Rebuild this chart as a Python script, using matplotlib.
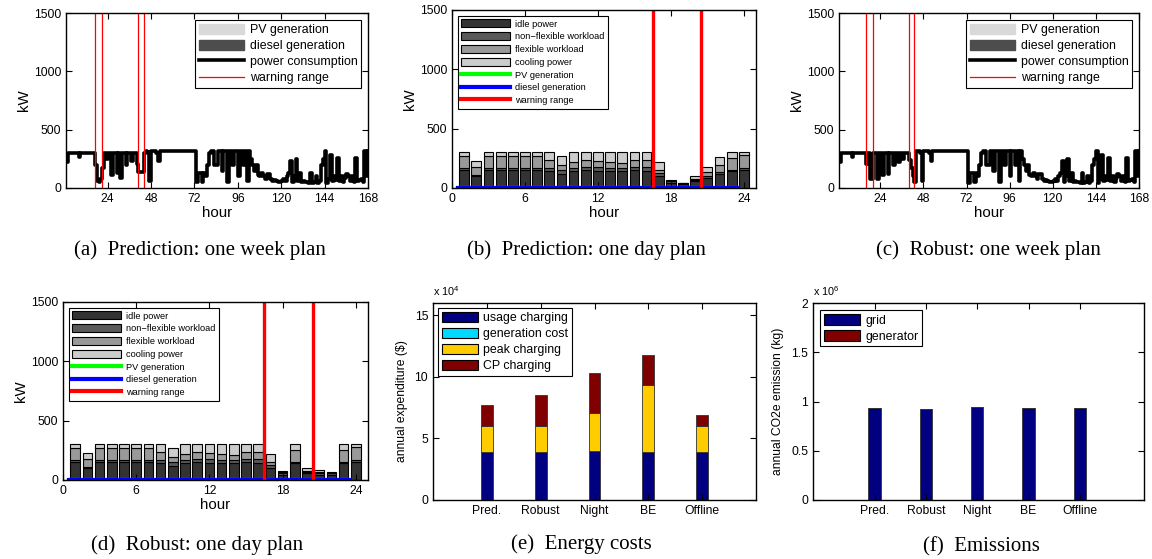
import matplotlib
matplotlib.use('Agg')
import matplotlib.pyplot as plt
from matplotlib.patches import Patch
from matplotlib.lines import Line2D
import numpy as np

plt.rcParams['font.family'] = ['Liberation Sans', 'DejaVu Sans']
plt.rcParams['mathtext.default'] = 'regular'

# ---- week plans (kW, hourly) ----
hours_week = np.arange(1, 169)
week_pred = [220, 300, 300, 300, 300, 300, 300, 270, 300, 300, 300, 300, 300, 300, 300, 300, 200, 60, 50, 80, 170, 300, 250, 300,
             300, 110, 300, 300, 130, 300, 90, 300, 300, 200, 300, 300, 230, 300, 300, 210, 140, 140, 140, 300, 320, 310, 60, 320,
             320, 320, 300, 230, 320, 320, 320, 320, 320, 320, 320, 320, 320, 320, 320, 320, 320, 320, 320, 320, 320, 320, 320, 320,
             50, 130, 130, 50, 130, 100, 200, 300, 320, 320, 200, 200, 320, 320, 150, 320, 320, 50, 320, 320, 200, 320, 320, 100,
             320, 320, 200, 320, 60, 320, 250, 200, 150, 200, 110, 100, 130, 100, 80, 120, 120, 80, 60, 70, 60, 50, 50, 60,
             80, 60, 100, 130, 230, 50, 100, 250, 60, 130, 50, 60, 50, 50, 40, 130, 40, 50, 100, 40, 60, 200, 250, 320,
             40, 80, 280, 60, 100, 70, 260, 60, 100, 50, 90, 120, 100, 60, 100, 50, 260, 60, 70, 80, 50, 320, 100, 320]
week_robust = [220, 300, 300, 300, 300, 300, 300, 270, 300, 300, 300, 300, 300, 300, 300, 210, 300, 80, 80, 300, 300, 80, 300, 300,
               110, 300, 300, 120, 300, 300, 200, 300, 300, 220, 300, 250, 300, 300, 300, 240, 170, 100, 50, 320, 320, 300, 60, 320,
               320, 320, 300, 230, 320, 320, 320, 320, 320, 320, 320, 320, 320, 320, 320, 320, 320, 320, 320, 320, 320, 320, 320, 320,
               40, 130, 130, 50, 130, 100, 200, 300, 320, 320, 200, 200, 320, 320, 150, 320, 320, 50, 320, 320, 200, 320, 320, 100,
               320, 320, 200, 320, 60, 320, 250, 200, 150, 200, 110, 100, 130, 100, 80, 120, 120, 80, 60, 70, 60, 50, 50, 60,
               80, 60, 100, 130, 230, 50, 100, 250, 60, 130, 50, 60, 50, 50, 40, 130, 40, 50, 100, 40, 60, 200, 250, 320,
               40, 80, 280, 60, 100, 70, 260, 60, 100, 50, 90, 120, 100, 60, 100, 50, 260, 60, 70, 80, 50, 320, 100, 320]
warn_week_pred = [17, 21, 41, 44]
warn_week_robust = [16, 20, 40, 43]

# ---- day plans (kW per hour) ----
hours_day = np.arange(1, 25)
pred_idle = [150, 100, 150, 150, 150, 150, 150, 145, 120, 140, 150, 140, 140, 140, 150, 145, 100, 40, 35, 55, 85, 120, 140, 155]
pred_nonflex = [15, 10, 15, 15, 15, 15, 15, 25, 30, 30, 30, 35, 30, 30, 30, 30, 30, 15, 5, 15, 20, 15, 15, 15]
pred_flex = [105, 70, 105, 105, 105, 105, 105, 70, 40, 50, 60, 55, 50, 40, 60, 60, 25, 5, 0, 10, 30, 60, 100, 110]
pred_cool = [30, 45, 30, 30, 30, 30, 30, 60, 80, 80, 60, 70, 80, 90, 60, 65, 60, 10, 5, 20, 40, 70, 45, 20]
rob_idle = [150, 100, 150, 150, 150, 150, 150, 145, 120, 140, 150, 140, 140, 140, 150, 145, 100, 40, 140, 55, 45, 40, 140, 155]
rob_nonflex = [15, 10, 15, 15, 15, 15, 15, 25, 30, 30, 30, 35, 30, 30, 30, 30, 30, 15, 15, 15, 15, 15, 15, 15]
rob_flex = [105, 70, 105, 105, 105, 105, 105, 70, 40, 50, 60, 55, 50, 40, 60, 60, 25, 10, 100, 10, 10, 5, 95, 110]
rob_cool = [30, 45, 30, 30, 30, 30, 30, 60, 80, 80, 60, 70, 80, 90, 60, 65, 60, 10, 45, 20, 15, 10, 50, 20]
pv_day = [0] * 24
diesel_day = [0] * 24
warn_day = [16.5, 20.5]

# ---- annual results ----
methods = ['Pred.', 'Robust', 'Night', 'BE', 'Offline']
cost_usage = [38900, 38900, 39400, 38600, 38900]
cost_gen = [0, 0, 0, 0, 0]
cost_peak = [20900, 20900, 31300, 54600, 21400]
cost_cp = [17600, 25800, 32600, 24200, 8500]
emis_grid = [935000, 928000, 945000, 932000, 939000]
emis_gen = [0, 0, 0, 0, 0]

W, H = 1152, 559
fig = plt.figure(figsize=(W / 100, H / 100), dpi=100)


def add_ax(l, t, r, b):
    return fig.add_axes([l / W, 1 - b / H, (r - l) / W, (b - t) / H])


def style(ax, fs=8.7):
    ax.tick_params(direction='in', top=True, right=True, labelsize=fs, length=4, width=0.8)
    for s in ax.spines.values():
        s.set_linewidth(1.0)


def legend(ax, handles, labels, **kw):
    lg = ax.legend(handles, labels, fancybox=False, framealpha=1, **kw)
    lg.get_frame().set_edgecolor('k')
    lg.get_frame().set_linewidth(0.8)
    return lg


def week_panel(ax, y, warn):
    ax.step(hours_week, y, where='post', color='k', lw=2.6)
    for w in warn:
        ax.axvline(w, color='r', lw=0.9)
    ax.set_xlim(1, 168)
    ax.set_ylim(0, 1500)
    ax.set_xticks(range(24, 169, 24))
    ax.set_yticks([0, 500, 1000, 1500])
    ax.set_xlabel('hour', fontsize=10.8, labelpad=1)
    ax.set_ylabel('kW', fontsize=10.8, labelpad=2)
    style(ax)
    h = [Patch(facecolor='#d9d9d9', edgecolor='#d9d9d9'),
         Patch(facecolor='#4d4d4d', edgecolor='#4d4d4d'),
         Line2D([], [], color='k', lw=2.6),
         Line2D([], [], color='r', lw=0.9)]
    legend(ax, h, ['PV generation', 'diesel generation', 'power consumption', 'warning range'],
           loc='upper right', fontsize=8.9, handlelength=3.6, handleheight=0.9,
           labelspacing=0.3, borderpad=0.3, handletextpad=0.5, borderaxespad=0.55)


def day_panel(ax, parts):
    cols = ['#333333', '#5a5a5a', '#999999', '#cccccc']
    bottom = np.zeros(24)
    for vals, c in zip(parts, cols):
        ax.bar(hours_day, vals, width=0.8, bottom=bottom, color=c, edgecolor='k', lw=0.8)
        bottom += np.array(vals)
    ax.plot(hours_day - 0.5, pv_day, color='#00ff00', lw=3)
    ax.plot(hours_day - 0.5, diesel_day, color='#0000ff', lw=3)
    for w in warn_day:
        ax.axvline(w, color='#ff0000', lw=2.4)
    ax.set_xlim(0, 25)
    ax.set_ylim(0, 1500)
    ax.set_xticks([0, 6, 12, 18, 24])
    ax.set_yticks([0, 500, 1000, 1500])
    ax.set_xlabel('hour', fontsize=10.8, labelpad=1)
    ax.set_ylabel('kW', fontsize=10.8, labelpad=2)
    style(ax)
    h = [Patch(facecolor=c, edgecolor='k', lw=0.8) for c in cols] + \
        [Line2D([], [], color='#00ff00', lw=3), Line2D([], [], color='#0000ff', lw=3),
         Line2D([], [], color='#ff0000', lw=3)]
    legend(ax, h, ['idle power', 'non\u2212flexible workload', 'flexible workload', 'cooling power',
                   'PV generation', 'diesel generation', 'warning range'],
           loc='upper left', fontsize=6.7, handlelength=5.2, handleheight=0.95,
           labelspacing=0.38, borderpad=0.4, handletextpad=0.6, borderaxespad=0.6)


ax_a = add_ax(66, 13, 368, 188)
week_panel(ax_a, week_pred, warn_week_pred)
ax_b = add_ax(452, 10, 756, 188)
day_panel(ax_b, [pred_idle, pred_nonflex, pred_flex, pred_cool])
ax_c = add_ax(839, 13, 1139, 188)
week_panel(ax_c, week_robust, warn_week_robust)
ax_d = add_ax(63, 302, 368, 480)
day_panel(ax_d, [rob_idle, rob_nonflex, rob_flex, rob_cool])

# (e) energy costs
ax_e = add_ax(433, 303, 756, 500)
xpos = np.arange(1, 6)
cols_e = ['#000080', '#00d9ff', '#ffcc00', '#800000']
bottom = np.zeros(5)
for vals, c in zip([cost_usage, cost_gen, cost_peak, cost_cp], cols_e):
    v = np.array(vals) / 1e4
    ax_e.bar(xpos, v, width=0.22, bottom=bottom, color=c, edgecolor='#333333', lw=0.6)
    bottom += v
ax_e.set_xlim(0, 6)
ax_e.set_ylim(0, 16)
ax_e.set_xticks(xpos)
ax_e.set_xticklabels(methods)
ax_e.set_yticks([0, 5, 10, 15])
ax_e.set_ylabel('annual expenditure ($)', fontsize=8.7, labelpad=5)
ax_e.text(0, 1.025, r'x 10$^4$', transform=ax_e.transAxes, fontsize=7.8, va='bottom')
style(ax_e)
legend(ax_e, [Patch(facecolor=c, edgecolor='k', lw=0.8) for c in cols_e],
       ['usage charging', 'generation cost', 'peak charging', 'CP charging'],
       loc='upper left', fontsize=8.9, handlelength=2.9, handleheight=0.95,
       labelspacing=0.28, borderpad=0.3, handletextpad=0.45, borderaxespad=0.4)

# (f) emissions
ax_f = add_ax(813, 303, 1144, 500)
cols_f = ['#000080', '#800000']
bottom = np.zeros(5)
for vals, c in zip([emis_grid, emis_gen], cols_f):
    v = np.array(vals) / 1e6
    ax_f.bar(xpos, v, width=0.24, bottom=bottom, color=c, edgecolor='#333333', lw=0.6)
    bottom += v
ax_f.set_xlim(-0.2, 6.25)
ax_f.set_ylim(0, 2)
ax_f.set_xticks(xpos)
ax_f.set_xticklabels(methods)
ax_f.set_yticks([0, 0.5, 1, 1.5, 2])
ax_f.set_yticklabels(['0', '0.5', '1', '1.5', '2'])
ax_f.set_ylabel('annual CO2e emission (kg)', fontsize=8.7, labelpad=5)
ax_f.text(0.0, 1.025, r'x 10$^6$', transform=ax_f.transAxes, fontsize=7.8, va='bottom')
style(ax_f)
legend(ax_f, [Patch(facecolor=c, edgecolor='k', lw=0.8) for c in cols_f],
       ['grid', 'generator'],
       loc='upper left', fontsize=8.9, handlelength=2.9, handleheight=0.95,
       labelspacing=0.28, borderpad=0.3, handletextpad=0.45, borderaxespad=0.6)

# captions
caps = [('(a)  Prediction: one week plan', 200, 250), ('(b)  Prediction: one day plan', 586, 250),
        ('(c)  Robust: one week plan', 988, 250), ('(d)  Robust: one day plan', 197, 545),
        ('(e)  Energy costs', 581, 544), ('(f)  Emissions', 981, 547)]
for txt, x, y in caps:
    fig.text(x / W, 1 - y / H, txt, family=['Liberation Serif', 'DejaVu Serif'], fontsize=15,
             ha='center', va='center')

fig.savefig('out.png', dpi=100)
